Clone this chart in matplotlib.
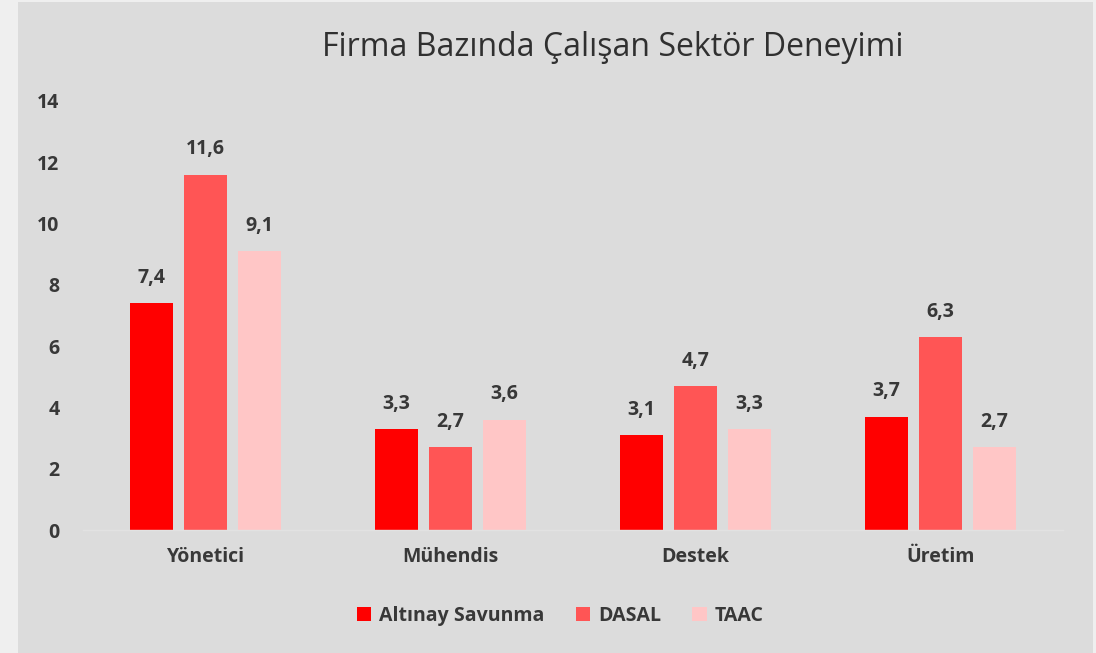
import matplotlib.pyplot as plt
from matplotlib.patches import Rectangle

# veriler
kategoriler = ['Yönetici', 'Mühendis', 'Destek', 'Üretim']
firmalar = ['Altınay Savunma', 'DASAL', 'TAAC']
altinay = [7.4, 3.3, 3.1, 3.7]
dasal = [11.6, 2.7, 4.7, 6.3]
taac = [9.1, 3.6, 3.3, 2.7]
renkler = ['#ff0000', '#ff5555', '#ffc6c6']
y_ticks = [0, 2, 4, 6, 8, 10, 12, 14]

yazi_renk = '#383838'
fs = 14
plt.rcParams['font.family'] = ['Open Sans', 'DejaVu Sans']

fig = plt.figure(figsize=(10.96, 6.53), dpi=100, facecolor='#efefef')
# grafik alani arka plani
fig.patches.append(Rectangle((18 / 1096, 0), 1075 / 1096, 651 / 653,
                             transform=fig.transFigure, facecolor='#dcdcdc',
                             edgecolor='none', zorder=-10))

ax = fig.add_axes([83 / 1096, 123 / 653, 980 / 1096, 429 / 653])
ax.set_facecolor('none')

genislik = 0.1755
adim = 0.22
seriler = [altinay, dasal, taac]
for k, (ad, degerler) in enumerate(zip(firmalar, seriler)):
    xs = [i + (k - 1) * adim for i in range(len(kategoriler))]
    bars = ax.bar(xs, degerler, width=genislik, color=renkler[k], label=ad, zorder=2)
    for b, v in zip(bars, degerler):
        ax.annotate(str(v).replace('.', ','), (b.get_x() + b.get_width() / 2, v),
                    xytext=(0, 11), textcoords='offset points', ha='center', va='bottom',
                    fontsize=fs, fontweight='bold', color=yazi_renk)

ax.set_xlim(-0.5, 3.5)
ax.set_ylim(0, 14)
ax.set_yticks(y_ticks)
ax.set_yticklabels([str(t) for t in y_ticks], fontsize=fs, fontweight='bold', color=yazi_renk)
ax.set_xticks(range(len(kategoriler)))
ax.set_xticklabels(kategoriler, fontsize=fs, fontweight='bold', color=yazi_renk)
ax.tick_params(axis='y', length=0, pad=17)
ax.tick_params(axis='x', length=0, pad=12)
for s in ['top', 'right', 'left']:
    ax.spines[s].set_visible(False)
ax.spines['bottom'].set_color('#e2e2e2')
ax.spines['bottom'].set_linewidth(1)

fig.text(613 / 1096, 1 - 47 / 653, 'Firma Bazında Çalışan Sektör Deneyimi',
         ha='center', va='center', fontsize=23, color='#303030')

leg = fig.legend(loc='center', bbox_to_anchor=(560 / 1096, 1 - 616 / 653), ncol=3,
                 frameon=False, handlelength=0.75, handleheight=0.75, handletextpad=0.4,
                 columnspacing=1.6, prop={'size': fs, 'weight': 'bold'})
for t in leg.get_texts():
    t.set_color(yazi_renk)

fig.savefig('out.png', dpi=100, facecolor=fig.get_facecolor())
